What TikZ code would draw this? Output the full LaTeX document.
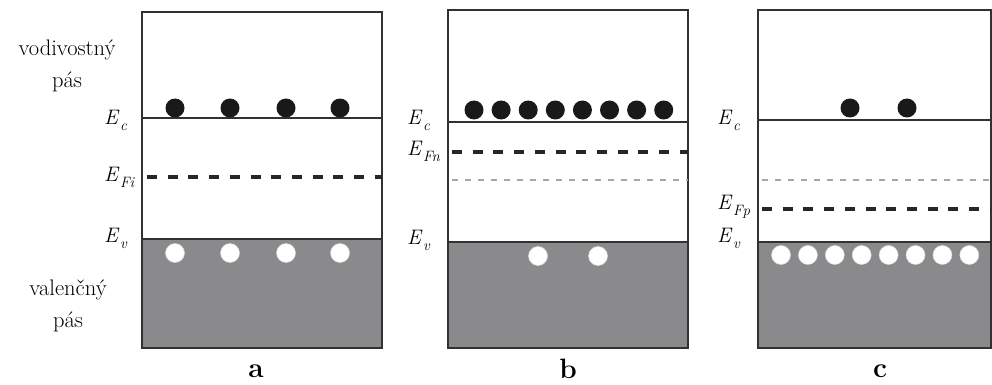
\documentclass[tikz,border=0pt]{standalone}
\usepackage{fontspec}
\usepackage{xcolor}
\usepackage{tikz}

\definecolor{bandgray}{RGB}{138,138,140}
\definecolor{edgegray}{RGB}{50,50,50}
\newcommand{\lev}[1]{\textit{E}\kern0.5pt\raisebox{-0.28em}{\fontsize{15}{15}\selectfont\itshape #1}}

\begin{document}
\begin{tikzpicture}[x=1pt, y=-1pt, font=\fontsize{22.5}{32}\selectfont,
  frame/.style={draw=edgegray, line width=2.5pt},
  bandedge/.style={draw=edgegray, line width=2.5pt},
  fermi/.style={draw=black!85, line width=4pt, dash pattern=on 10pt off 10.7pt},
  intrinsic/.style={draw=black!35, line width=1.5pt, dash pattern=on 6pt off 7pt},
  electron/.style={circle, fill=black!90, inner sep=0pt, minimum size=19pt},
  hole/.style={circle, fill=white, draw=black!15, line width=0.5pt, inner sep=0pt, minimum size=19pt},
  lvl/.style={anchor=west, inner sep=0pt, font=\fontsize{21}{24}\selectfont},
  panel/.style={inner sep=1pt, font=\fontsize{28}{30}\selectfont\bfseries}]
  \useasboundingbox (0,0) rectangle (992,385);

  % a
  \fill[bandgray] (142,239) rectangle (382,348);
  \draw[frame] (142,12) rectangle (382,348);
  \draw[bandedge] (142,118) -- (382,118);
  \draw[bandedge] (142,239) -- (382,239);
  \draw[fermi] (147,177) -- (382,177);
  \foreach \x [count=\i] in {175,230,286,340}{
    \node[electron] (ea\i) at (\x,108) {};
    \node[hole] (ha\i) at (\x,253) {};
  }
  \node[align=center] (cband) at (67,66) {vodivostný\\pás};
  \node[align=center] (vband) at (68,306) {valenčný\\pás};
  \node[lvl] (eca) at (104,120) {\lev{c}};
  \node[lvl] (efi) at (104,177) {\lev{Fi}};
  \node[lvl] (eva) at (104,238) {\lev{v}};
  \node[panel] (pa) at (256,371) {a};

  % b
  \fill[bandgray] (448,242) rectangle (688,348);
  \draw[frame] (448,10) rectangle (688,348);
  \draw[bandedge] (448,122) -- (688,122);
  \draw[bandedge] (448,242) -- (688,242);
  \draw[intrinsic] (452,180) -- (688,180);
  \draw[fermi] (452,152) -- (688,152);
  \foreach \i in {0,...,7}
    \node[electron] (eb\i) at (474+27.1*\i,110) {};
  \node[hole] (hb1) at (538,256) {};
  \node[hole] (hb2) at (598,256) {};
  \node[lvl] (ecb) at (407,120) {\lev{c}};
  \node[lvl] (efn) at (407,151) {\lev{Fn}};
  \node[lvl] (evb) at (407,240) {\lev{v}};
  \node[panel] (pb) at (568,369) {b};

  % c
  \fill[bandgray] (758,242) rectangle (991,348);
  \draw[frame] (758,10) rectangle (991,348);
  \draw[bandedge] (758,120) -- (991,120);
  \draw[bandedge] (758,242) -- (991,242);
  \draw[intrinsic] (762,180) -- (991,180);
  \draw[fermi] (762,209) -- (991,209);
  \node[electron] (ec1) at (850,108) {};
  \node[electron] (ec2) at (907,108) {};
  \foreach \i in {0,...,7}
    \node[hole] (hc\i) at (781+26.9*\i,255) {};
  \node[lvl] (ecc) at (717,120) {\lev{c}};
  \node[lvl] (efp) at (717,207) {\lev{Fp}};
  \node[lvl] (evc) at (717,238) {\lev{v}};
  \node[panel] (pc) at (880,371) {c};
\end{tikzpicture}
\end{document}
